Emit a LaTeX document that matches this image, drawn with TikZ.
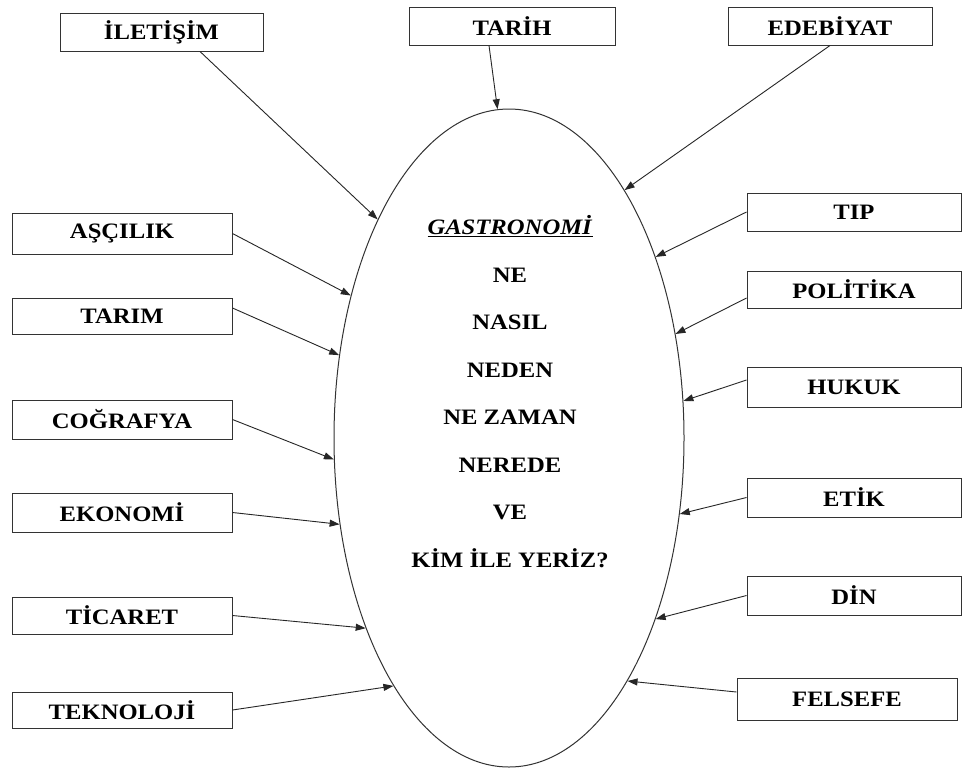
\documentclass[tikz,border=0pt]{standalone}
\usepackage{fontspec}
\setmainfont{Liberation Serif}
\newfontfamily\kutufont[FakeStretch=1.12]{Liberation Serif}
\usepackage{tikz}
\usetikzlibrary{shapes.geometric, calc, arrows.meta}

\tikzset{
  kutu/.style={draw=black!80, line width=1pt, fill=white, inner sep=0pt, minimum width=220pt, minimum height=38pt,
    font=\kutufont\bfseries\fontsize{22}{24}\selectfont},
  okucu/.style={draw=black!85, line width=0.9pt, -{Triangle[length=10pt,width=7pt]}},
}

\begin{document}
\begin{tikzpicture}[x=1pt, y=-1pt]
            \useasboundingbox[fill=white] (0,0) rectangle (963,769);
            \node[ellipse, draw=black!80, line width=1pt, minimum width=350pt, minimum height=658pt, inner sep=0pt] (gastro) at (509,438) {};
            \node[align=center, font=\kutufont\bfseries\fontsize{22}{47.5}\selectfont] (soru) at (510,391.5) {\underline{\textit{GASTRONOMİ}}\\NE\\NASIL\\NEDEN\\NE ZAMAN\\NEREDE\\VE\\KİM İLE YERİZ?};
            \node[kutu, minimum width=203pt] (ilet) at (161.5,32) {İLETİŞİM};
            \node[kutu, minimum width=206pt] (tarih) at (512,26) {TARİH};
            \node[kutu, minimum width=204pt] (edeb) at (830,26) {EDEBİYAT};
            \node[kutu, minimum height=41pt] (asci) at (122,233.5) {AŞÇILIK};
            \node[kutu, minimum height=36pt] (tarim) at (122,316) {TARIM};
            \node[kutu, minimum height=39pt] (cog) at (122,419.5) {COĞRAFYA};
            \node[kutu, minimum height=39pt] (eko) at (122,512.5) {EKONOMİ};
            \node[kutu, minimum height=37pt] (tic) at (122,615.5) {TİCARET};
            \node[kutu, minimum height=36pt] (tek) at (122,710) {TEKNOLOJİ};
            \node[kutu, minimum width=214pt] (tip) at (854,212) {TIP};
            \node[kutu, minimum width=214pt, minimum height=37pt] (pol) at (854,289.5) {POLİTİKA};
            \node[kutu, minimum width=214pt, minimum height=40pt] (huk) at (854,387) {HUKUK};
            \node[kutu, minimum width=214pt, minimum height=39pt] (etik) at (854,497.5) {ETİK};
            \node[kutu, minimum width=214pt, minimum height=39pt] (din) at (854,595.5) {DİN};
            \node[kutu, minimum height=42pt] (fel) at (847,699) {FELSEFE};
            \draw[okucu] ($(ilet.south)+(38.5,0)$) -- (gastro.121.4);
            \draw[okucu] ($(tarih.south)+(-23,0)$) -- (gastro.92.1);
            \draw[okucu] (edeb.south) -- (gastro.65.3);
            \draw[okucu] (asci.east) -- (gastro.138);
            \draw[okucu] ($(tarim.east)+(0,-8)$) -- (gastro.154);
            \draw[okucu] (cog.east) -- (gastro.187.1);
            \draw[okucu] (eko.east) -- (gastro.207.9);
            \draw[okucu] (tic.east) -- (gastro.233.8);
            \draw[okucu] (tek.east) -- (gastro.245.4);
            \draw[okucu] (tip.west) -- (gastro.51.5);
            \draw[okucu] ($(pol.west)+(0,8.5)$) -- (gastro.32.7);
            \draw[okucu] ($(huk.west)+(0,-7)$) -- (gastro.12.8);
            \draw[okucu] (etik.west) -- (gastro.336.4);
            \draw[okucu] (din.west) -- (gastro.309.6);
            \draw[okucu] ($(fel.west)+(0,-7)$) -- (gastro.296.6);
        \end{tikzpicture}
\end{document}
